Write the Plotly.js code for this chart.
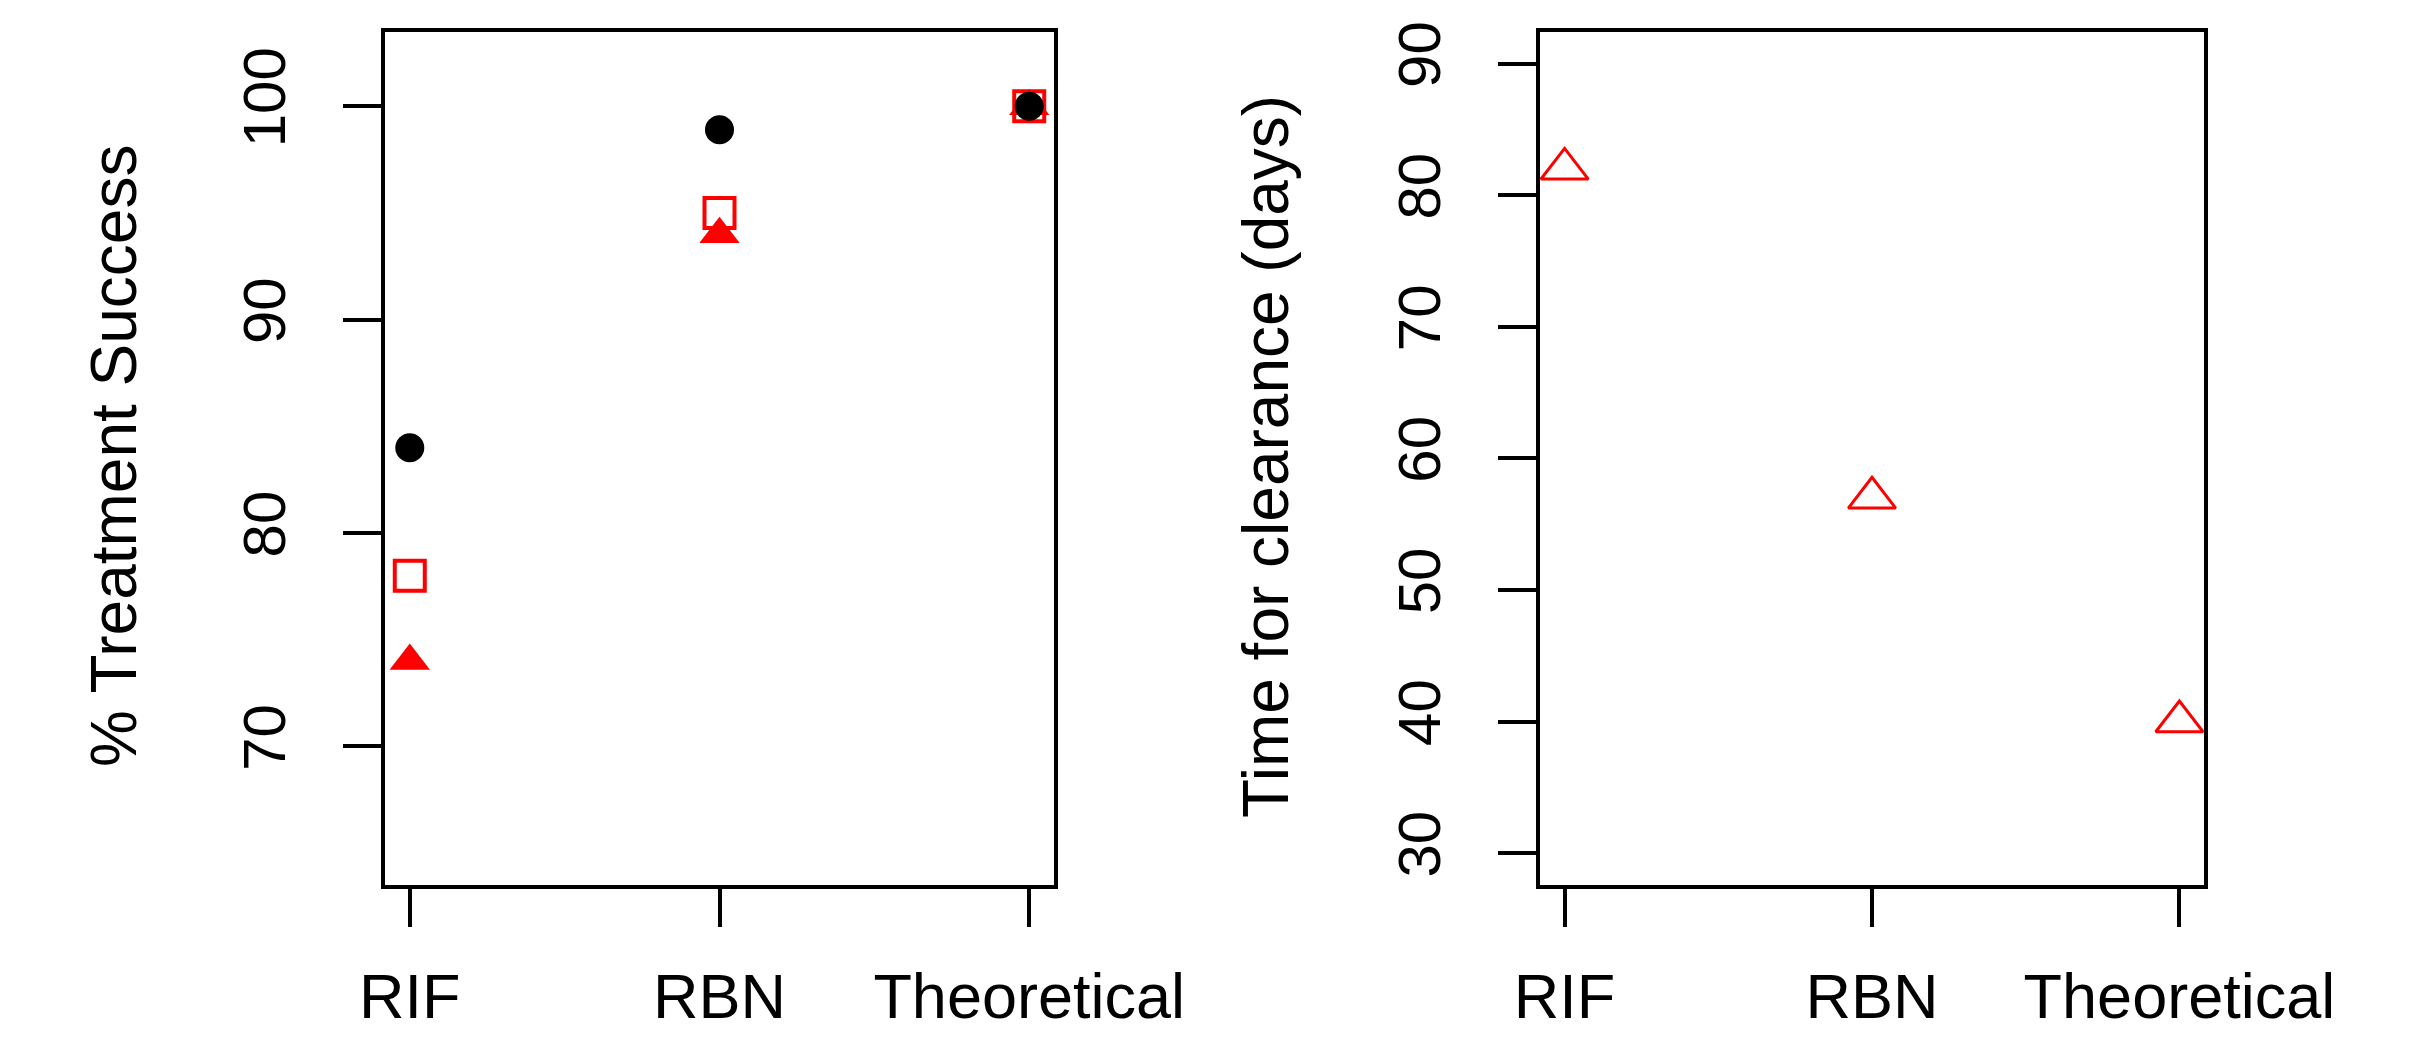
<!DOCTYPE html>
<html>
<head>
<meta charset="utf-8">
<script src="https://cdn.plot.ly/plotly-3.0.1.min.js"></script>
<style>html,body{margin:0;padding:0;background:#fff;}#chart{width:2417px;height:1038px;}</style>
</head>
<body>
<div id="chart"></div>
<script>
// ---- data ----
var categories = ['RIF', 'RBN', 'Theoretical'];
var catIndex = [1, 2, 3];
var successCircle = [84, 98.9, 100];     // black filled circles
var successSquare = [78, 95, 100];       // red open squares
var successTriangle = [74, 94, 100];     // red filled triangles
var clearanceDays = [82, 57, 40];        // red open triangles
var leftTicks = [70, 80, 90, 100];
var rightTicks = [30, 40, 50, 60, 70, 80, 90];

var W = 2417, H = 1038;
var FONT = 'Liberation Sans, Arial, sans-serif';

var traces = [
  {x: catIndex, y: successTriangle, xaxis: 'x', yaxis: 'y', mode: 'markers', type: 'scatter',
   marker: {symbol: 'triangle-up', size: 35, color: '#FF0000', line: {width: 0}}},
  {x: catIndex, y: successSquare, xaxis: 'x', yaxis: 'y', mode: 'markers', type: 'scatter',
   marker: {symbol: 'square-open', size: 30, color: '#FF0000', line: {width: 4, color: '#FF0000'}}},
  {x: catIndex, y: successCircle, xaxis: 'x', yaxis: 'y', mode: 'markers', type: 'scatter',
   marker: {symbol: 'circle', size: 29, color: '#000000', line: {width: 0}}},
  {x: catIndex, y: clearanceDays, xaxis: 'x2', yaxis: 'y2', mode: 'markers', type: 'scatter',
   marker: {symbol: 'triangle-up-open', size: 41, color: '#FF0000', line: {width: 3, color: '#FF0000'}}}
];

function xAxis(domain, anchor) {
  return {
    domain: domain, anchor: anchor, range: [0.92, 3.08],
    tickmode: 'array', tickvals: catIndex, ticktext: categories,
    showline: true, mirror: true, linewidth: 4, linecolor: '#000',
    ticks: 'outside', ticklen: 38, tickwidth: 4, tickcolor: '#000',
    showgrid: false, zeroline: false, ticklabelstandoff: 16,
    tickfont: {family: FONT, size: 63, color: '#000'}
  };
}
function yAxis(range, ticks, anchor) {
  return {
    domain: [(H - 884.7) / H, (H - 32) / H], anchor: anchor, range: range,
    tickmode: 'array', tickvals: ticks, ticktext: ticks.map(String), tickangle: -90,
    showline: true, mirror: true, linewidth: 4, linecolor: '#000',
    ticks: 'outside', ticklen: 38, tickwidth: 4, tickcolor: '#000',
    showgrid: false, zeroline: false, ticklabelstandoff: 34,
    tickfont: {family: FONT, size: 60, color: '#000'}
  };
}

var layout = {
  width: W, height: H,
  margin: {l: 0, r: 0, t: 0, b: 0},
  paper_bgcolor: '#fff', plot_bgcolor: '#fff',
  showlegend: false,
  xaxis: xAxis([385 / W, 1054 / W], 'y'),
  yaxis: yAxis([63.52, 103.48], leftTicks, 'x'),
  xaxis2: xAxis([1540 / W, 2204 / W], 'y2'),
  yaxis2: yAxis([27.6, 92.4], rightTicks, 'x2'),
  annotations: [
    {text: '% Treatment Success', xref: 'paper', yref: 'paper', x: 114 / W, y: (H - 456) / H,
     xanchor: 'center', yanchor: 'middle', textangle: -90, showarrow: false,
     font: {family: FONT, size: 64, color: '#000'}},
    {text: 'Time for clearance (days)', xref: 'paper', yref: 'paper', x: 1266 / W, y: (H - 457) / H,
     xanchor: 'center', yanchor: 'middle', textangle: -90, showarrow: false,
     font: {family: FONT, size: 64, color: '#000'}}
  ]
};

Plotly.newPlot('chart', traces, layout, {displayModeBar: false, staticPlot: true});
</script>
</body>
</html>
